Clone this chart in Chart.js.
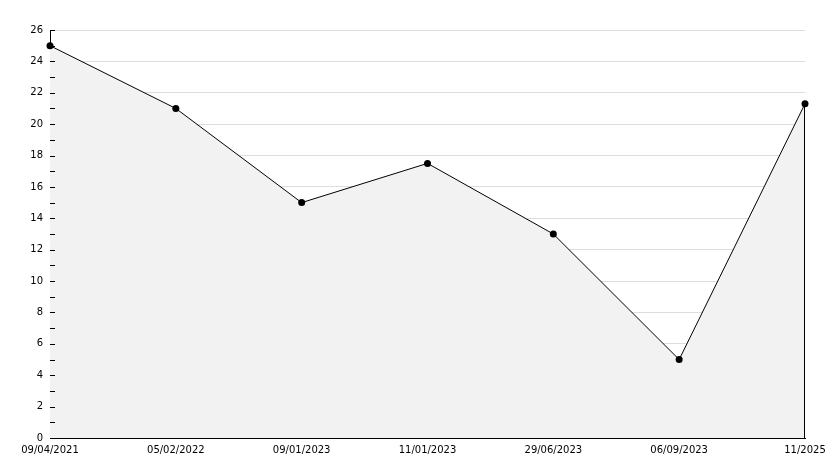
<!DOCTYPE html>
<html>
<head>
<meta charset="utf-8">
<style>
  html, body { margin: 0; padding: 0; background: #fff; }
  canvas { display: block; }
</style>
<script src="https://cdn.jsdelivr.net/npm/chart.js@4/dist/chart.umd.min.js"></script>
</head>
<body>
<canvas id="lineChart" width="834" height="468"></canvas>
<script>
var dates = ['09/04/2021', '05/02/2022', '09/01/2023', '11/01/2023', '29/06/2023', '06/09/2023', '11/2025'];
var values = [25, 21, 15, 17.5, 13, 5, 21.3];
var yMax = 26;
var yStep = 2;

// inward tick marks on the y axis + closing edge of the filled area
var innerTicks = {
    id: 'innerTicks',
    afterDatasetsDraw: function (chart) {
        var ctx = chart.ctx;
        var y = chart.scales.y;
        var area = chart.chartArea;
        ctx.save();
        ctx.strokeStyle = '#000';
        ctx.lineWidth = 1;
        ctx.beginPath();
        y.ticks.forEach(function (t) {
            var py = Math.round(y.getPixelForValue(t.value)) + 0.5;
            ctx.moveTo(area.left, py);
            ctx.lineTo(area.left + 5, py);
        });
        var pts = chart.getDatasetMeta(0).data;
        var last = pts[pts.length - 1];
        var px = Math.round(last.x) - 0.5;
        ctx.moveTo(px, last.y);
        ctx.lineTo(px, area.bottom);
        ctx.stroke();
        ctx.restore();
    }
};

document.addEventListener('DOMContentLoaded', function () {
    Chart.defaults.font.family = '"DejaVu Sans", sans-serif';
    Chart.defaults.font.size = 10;
    Chart.defaults.color = '#000';

    var ctx = document.getElementById('lineChart').getContext('2d');
    new Chart(ctx, {
        type: 'line',
        data: {
            labels: dates,
            datasets: [{
                data: values,
                borderColor: '#000',
                borderWidth: 1,
                backgroundColor: '#f2f2f2',
                fill: 'origin',
                tension: 0,
                pointRadius: 3.5,
                pointBackgroundColor: '#000',
                pointBorderColor: '#000',
                pointBorderWidth: 0
            }]
        },
        options: {
            responsive: false,
            animation: false,
            layout: { padding: { top: 30, right: 29, left: 0, bottom: 0 } },
            plugins: {
                legend: { display: false },
                tooltip: { enabled: false }
            },
            scales: {
                x: {
                    offset: false,
                    grid: { display: false, drawTicks: false },
                    border: { color: '#000', width: 1 },
                    ticks: { maxRotation: 0, autoSkip: false, padding: 6 },
                    afterFit: function (s) { s.height = 30; }
                },
                y: {
                    min: 0,
                    max: yMax,
                    grid: {
                        drawTicks: false,
                        color: function (c) {
                            return c.tick && c.tick.value % yStep === 0 ? '#dddddd' : 'rgba(0,0,0,0)';
                        }
                    },
                    border: { color: '#000', width: 1 },
                    ticks: {
                        stepSize: 1,
                        padding: 7,
                        callback: function (v) { return v % yStep === 0 ? v : ''; }
                    },
                    afterFit: function (s) { s.width = 50; }
                }
            }
        },
        plugins: [innerTicks]
    });
});
</script>
</body>
</html>
